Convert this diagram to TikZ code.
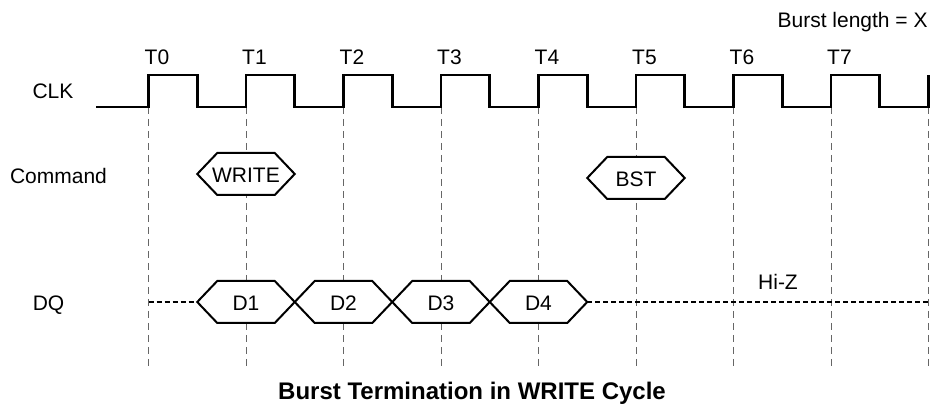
\documentclass[tikz,border=0pt]{standalone}
\usepackage{fontspec}
\setmainfont{Liberation Sans}

\tikzset{
	clkline/.style = {line width = 1.4pt, line join = miter},
	gridline/.style = {black!60, line width = 0.5pt, dash pattern = on 3.5pt off 2.5pt},
	hizline/.style = {line width = 1pt, dash pattern = on 2.5pt off 1.5pt},
	hexline/.style = {line width = 1pt, fill = white, line join = miter},
	lbl/.style = {font = \fontsize{10.5}{12}\selectfont, inner sep = 0pt},
	caption/.style = {font = \fontsize{12}{14}\selectfont\bfseries, inner sep = 0pt},
}

% bus value hexagon: name, centre x, centre y, text
\newcommand{\busHex}[4]{%
	\draw[hexline] ({#2 - 48.75}, #3) -- ++(20, -21) -- ++(57.5, 0) -- ++(20, 21) -- ++(-20, 21) -- ++(-57.5, 0) -- cycle;
	\node[lbl, anchor = base] (#1) at (#2, {#3 + 9}) {#4};
}

\begin{document}
\begin{tikzpicture}[x = 0.5pt, y = -0.5pt]

	% canvas in pixels, y pointing down
	\useasboundingbox (0, 0) rectangle (934, 405);

	% clock timing
	\def\clkPeriod{97.5}
	\def\clkStart{148.5}
	\def\clkHigh{75}
	\def\clkLow{107}

	% rising edges T0 .. T8
	\foreach \k in {0, ..., 8}
		\coordinate (T\k) at ({\clkStart + \k * \clkPeriod}, \clkLow);

	% dashed guides below every rising edge
	\foreach \k in {0, ..., 8}
		\draw[gridline] (T\k) -- ++(0, 262);

	% clock wave
	\draw[clkline] (96, \clkLow) \foreach \k in {0, ..., 7} {
		-- (T\k) -- ++(0, \clkHigh - \clkLow) -- ++(\clkPeriod / 2, 0) -- ++(0, \clkLow - \clkHigh)
	} -- (T8) -- ++(0, \clkHigh - \clkLow);

	% edge names
	\foreach \k in {0, ..., 7}
		\node[lbl, anchor = base] (tLbl\k) at ({\clkStart + \k * \clkPeriod + 8.5}, 65) {T\k};

	% signal names
	\node[lbl, anchor = base] (clkLbl) at (53, 99) {CLK};
	\node[lbl, anchor = base] (cmdLbl) at (58.5, 184) {Command};
	\node[lbl, anchor = base] (dqLbl) at (48.5, 311) {DQ};
	\node[lbl, anchor = base east] (burstLbl) at (928, 28) {Burst length = X};

	% commands
	\busHex{cmdWrite}{246}{174}{WRITE}
	\busHex{cmdBst}{636}{178}{BST}

	% data bus, high impedance outside the burst
	\coordinate (dqStart) at (\clkStart, 302);
	\coordinate (dqIn) at ({\clkStart + 0.5 * \clkPeriod}, 302);
	\coordinate (dqOut) at ({\clkStart + 4.5 * \clkPeriod}, 302);
	\coordinate (dqEnd) at ({\clkStart + 8 * \clkPeriod}, 302);
	\draw[hizline] (dqStart) -- (dqIn);
	\draw[hizline] (dqOut) -- (dqEnd);
	\foreach \k in {1, ..., 4} {
		\busHex{dq\k}{\clkStart + \k * \clkPeriod}{302}{D\k}
	}
	\node[lbl, anchor = base] (hizLbl) at (778, 290) {Hi-Z};

	% caption
	\node[caption, anchor = base] (title) at (472, 400) {Burst Termination in WRITE Cycle};

\end{tikzpicture}
\end{document}
